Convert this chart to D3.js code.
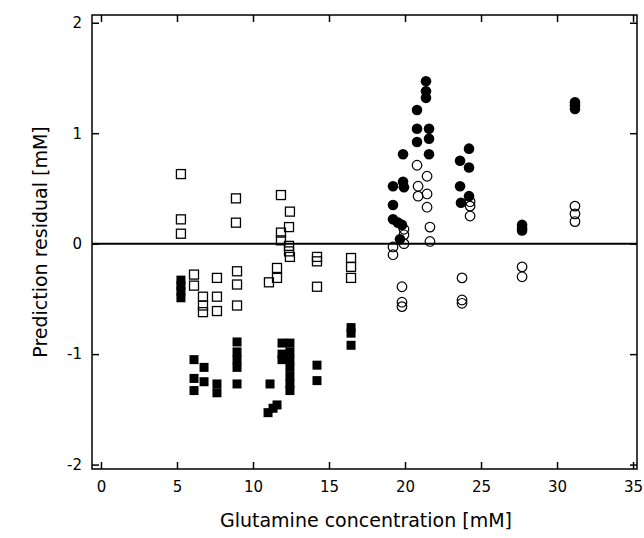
<!DOCTYPE html><html><head><meta charset="utf-8"><script src="https://cdn.jsdelivr.net/npm/d3@7"></script>
<style>body{margin:0;background:#fff}text{font-family:"DejaVu Sans",Verdana,sans-serif}</style></head><body><svg id="c" width="644" height="538"></svg>
<script>
const px=p=>+((p-101)/15.2).toFixed(2);
const openSquares=[[181,0.63],[181,0.22],[181,0.09],[194,-0.28],[194,-0.38],[203,-0.48],[203,-0.56],[203,-0.62],[217,-0.31],[217,-0.48],[217,-0.61],[236,0.41],[236,0.19],[237,-0.25],[237,-0.37],[237,-0.56],[281,0.44],[290,0.29],[289,0.15],[281,0.1],[281,0.03],[289,-0.02],[289,-0.07],[290,-0.12],[269,-0.35],[277,-0.22],[277,-0.31],[317,-0.12],[317,-0.16],[317,-0.39],[351,-0.13],[351,-0.21],[351,-0.31]].map(d=>[px(d[0]),d[1]]);
const filledSquares=[[181,-0.33],[181,-0.38],[181,-0.43],[181,-0.49],[194,-1.05],[194,-1.22],[194,-1.33],[204,-1.12],[204,-1.25],[217,-1.27],[217,-1.35],[237,-0.89],[237,-0.98],[237,-1.05],[237,-1.12],[237,-1.27],[270,-1.27],[273,-1.49],[277,-1.46],[268,-1.53],[282,-0.9],[282,-1.0],[282,-1.05],[290,-0.9],[290,-0.98],[290,-1.05],[290,-1.12],[290,-1.2],[290,-1.27],[290,-1.33],[317,-1.1],[317,-1.24],[351,-0.76],[351,-0.81],[351,-0.92]].map(d=>[px(d[0]),d[1]]);
const filledCircles=[[393,0.52],[393,0.35],[393,0.22],[398,0.19],[402,0.17],[400,0.04],[403,0.81],[403,0.56],[404,0.51],[417,1.21],[417,1.04],[417,0.92],[426,1.47],[426,1.38],[426,1.32],[429,1.04],[429,0.95],[429,0.81],[460,0.75],[460,0.52],[461,0.37],[469,0.86],[469,0.69],[469,0.43],[522,0.17],[522,0.14],[522,0.12],[575,1.28],[575,1.25],[575,1.22]].map(d=>[px(d[0]),d[1]]);
const openCircles=[[393,-0.03],[393,-0.1],[404,0.13],[404,0.08],[404,0.0],[402,-0.39],[402,-0.53],[402,-0.57],[417,0.71],[418,0.52],[418,0.43],[427,0.61],[427,0.45],[427,0.33],[430,0.15],[430,0.02],[470,0.38],[470,0.34],[470,0.25],[462,-0.31],[462,-0.51],[462,-0.54],[522,-0.21],[522,-0.3],[575,0.34],[575,0.27],[575,0.2]].map(d=>[px(d[0]),d[1]]);
const xTicks=[0,5,10,15,20,25,30,35], yTicks=[-2,-1,0,1,2];
const svg=d3.select("#c");
const L=92,R=637,T=15,B=469;
const x=d3.scaleLinear().domain([-0.59,35.26]).range([L,R]);
const y=d3.scaleLinear().domain([-2.04,2.07]).range([B,T]);
const g=svg.append("g");
g.append("line").attr("x1",L).attr("x2",R).attr("y1",y(0)).attr("y2",y(0)).attr("stroke","#000").attr("stroke-width",2);
const sq=9;
g.selectAll(".os").data(openSquares).join("rect").attr("x",d=>x(d[0])-sq/2).attr("y",d=>y(d[1])-sq/2).attr("width",sq).attr("height",sq).attr("fill","none").attr("stroke","#000").attr("stroke-width",1.3);
g.selectAll(".fs").data(filledSquares).join("rect").attr("x",d=>x(d[0])-sq/2).attr("y",d=>y(d[1])-sq/2).attr("width",sq).attr("height",sq).attr("fill","#000");
g.selectAll(".oc").data(openCircles).join("circle").attr("cx",d=>x(d[0])).attr("cy",d=>y(d[1])).attr("r",4.8).attr("fill","none").attr("stroke","#000").attr("stroke-width",1.2);
g.selectAll(".fc").data(filledCircles).join("circle").attr("cx",d=>x(d[0])).attr("cy",d=>y(d[1])).attr("r",5.3).attr("fill","#000");
svg.append("rect").attr("x",L).attr("y",T).attr("width",R-L).attr("height",B-T).attr("fill","none").attr("stroke","#000").attr("stroke-width",1.5);
const ax=a=>{a.select(".domain").remove();a.selectAll("text").style("font-size","15px");};
const fmt=d=>String(d);
svg.append("g").attr("transform",`translate(0,${B})`).call(d3.axisBottom(x).tickValues(xTicks).tickSize(-7).tickPadding(12).tickFormat(fmt)).call(ax);
svg.append("g").attr("transform",`translate(0,${T})`).call(d3.axisTop(x).tickValues(xTicks).tickSize(-7).tickFormat("")).call(ax);
svg.append("g").attr("transform",`translate(${L},0)`).call(d3.axisLeft(y).tickValues(yTicks).tickSize(-7).tickPadding(10).tickFormat(fmt)).call(ax);
svg.append("g").attr("transform",`translate(${R},0)`).call(d3.axisRight(y).tickValues(yTicks).tickSize(-7).tickFormat("")).call(ax);
svg.selectAll(".tick line").attr("stroke-width",1.5);
svg.append("text").attr("x",366).attr("y",527).attr("text-anchor","middle").style("font-size","19px").text("Glutamine concentration [mM]");
svg.append("text").attr("transform",`translate(47,${(T+B)/2}) rotate(-90)`).attr("text-anchor","middle").style("font-size","19px").text("Prediction residual [mM]");
</script></body></html>
